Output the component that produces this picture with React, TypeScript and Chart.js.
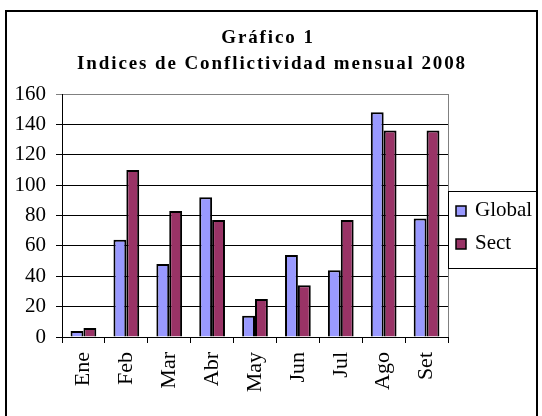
import React, { useEffect, useRef } from "react";
import { Chart, registerables } from "chart.js";

Chart.register(...registerables);

const categories = ["Ene", "Feb", "Mar", "Abr", "May", "Jun", "Jul", "Ago", "Set"];
const globalValues = [4, 64, 48, 92, 14, 54, 44, 148, 78];
const sectValues = [6, 110, 83, 77, 25, 34, 77, 136, 136];
const titleLines = ["Gráfico 1", "Indices de Conflictividad mensual 2008"];
const seriesNames = ["Global", "Sect"];
const seriesColors = ["#9999FF", "#993366"];

const SERIF = "'Liberation Serif', 'Times New Roman', serif";

const decorPlugin = {
  id: "decor",
  beforeDraw(chart: any) {
    const ctx = chart.ctx as CanvasRenderingContext2D;
    ctx.save();
    ctx.fillStyle = "#ffffff";
    ctx.fillRect(0, 0, chart.width, chart.height);
    ctx.restore();
  },
  beforeDatasetsDraw(chart: any) {
    const ctx = chart.ctx as CanvasRenderingContext2D;
    const a = chart.chartArea;
    ctx.save();
    ctx.strokeStyle = "#808080";
    ctx.lineWidth = 1;
    ctx.beginPath();
    ctx.moveTo(Math.round(a.right) + 0.5, a.top);
    ctx.lineTo(Math.round(a.right) + 0.5, a.bottom);
    ctx.stroke();
    ctx.restore();
  },
  afterDraw(chart: any) {
    const ctx = chart.ctx as CanvasRenderingContext2D;
    ctx.save();
    // outer frame
    ctx.strokeStyle = "#000";
    ctx.lineWidth = 2;
    ctx.strokeRect(6, 11, 531, 420);
    // titles
    ctx.fillStyle = "#000";
    ctx.textAlign = "center";
    ctx.textBaseline = "alphabetic";
    ctx.font = `bold 19px ${SERIF}`;
    (ctx as any).letterSpacing = "1.9px";
    ctx.fillText(titleLines[0], 268, 43);
    ctx.fillText(titleLines[1], 272, 69);
    (ctx as any).letterSpacing = "0px";
    // legend
    ctx.lineWidth = 1;
    ctx.strokeStyle = "#000";
    ctx.strokeRect(448.5, 191.5, 89, 77);
    ctx.textAlign = "left";
    ctx.font = `21px ${SERIF}`;
    chart.data.datasets.forEach((ds: any, i: number) => {
      const y = 206 + i * 33;
      ctx.fillStyle = ds.backgroundColor;
      ctx.fillRect(456, y, 10, 10);
      ctx.lineWidth = 1.5;
      ctx.strokeRect(456, y, 10, 10);
      ctx.fillStyle = "#000";
      ctx.fillText(ds.label, 475, y + 10);
    });
    ctx.restore();
  },
};

export default function App() {
  const ref = useRef<HTMLCanvasElement | null>(null);
  useEffect(() => {
    document.body.style.margin = "0";
    const canvas = ref.current;
    if (!canvas) return;
    const chart = new Chart(canvas, {
      type: "bar",
      data: {
        labels: categories,
        datasets: [
          {
            label: seriesNames[0],
            data: globalValues,
            backgroundColor: seriesColors[0],
            borderColor: "#000",
            borderWidth: 2,
          },
          {
            label: seriesNames[1],
            data: sectValues,
            backgroundColor: seriesColors[1],
            borderColor: "#000",
            borderWidth: 2,
          },
        ],
      },
      options: {
        responsive: false,
        animation: false,
        devicePixelRatio: 1,
        layout: { padding: { left: 8, right: 94, top: 94, bottom: 0 } },
        datasets: { bar: { categoryPercentage: 0.6, barPercentage: 1.0 } } as any,
        plugins: {
          legend: { display: false },
          title: { display: false },
          tooltip: { enabled: false },
        },
        scales: {
          x: {
            grid: {
              display: true,
              drawOnChartArea: false,
              drawTicks: true,
              tickLength: 6,
              color: "#000",
              offset: true,
            },
            border: { display: true, color: "#000", width: 1 },
            ticks: {
              minRotation: 90,
              maxRotation: 90,
              padding: 9,
              color: "#000",
              font: { family: SERIF, size: 22 },
            },
            afterFit(scale: any) {
              scale.height = 79;
            },
          },
          y: {
            min: 0,
            max: 160,
            grid: {
              color: (c: any) => (c.tick && c.tick.value === 160 ? "#808080" : "#000"),
              tickLength: 6,
              lineWidth: 1,
            },
            border: { display: true, color: "#000", width: 1 },
            ticks: {
              stepSize: 20,
              padding: 10,
              color: "#000",
              font: { family: SERIF, size: 21 },
            },
            afterFit(scale: any) {
              scale.width = 54;
            },
          },
        },
      },
      plugins: [decorPlugin],
    });
    return () => chart.destroy();
  }, []);
  return (
    <div style={{ width: 542, height: 416 }}>
      <canvas ref={ref} width={542} height={416} style={{ width: 542, height: 416, display: "block" }} />
    </div>
  );
}
